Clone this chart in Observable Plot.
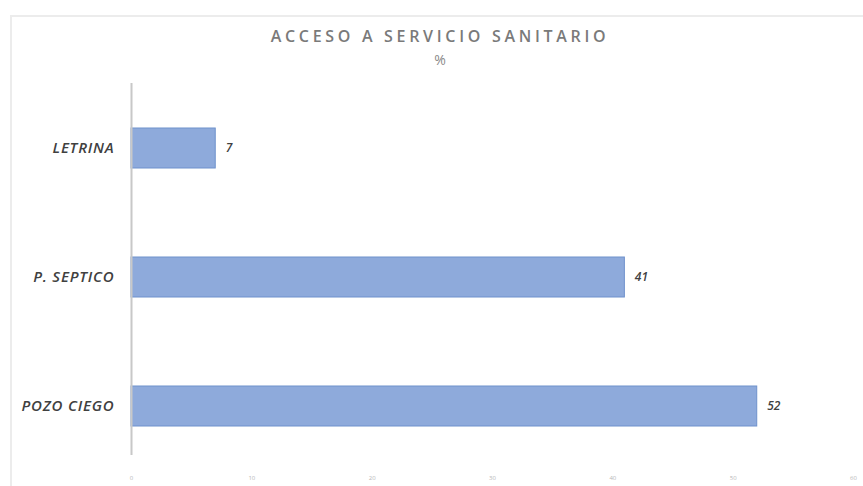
<!DOCTYPE html>
<html>
<head>
<meta charset="utf-8">
<script src="https://cdn.jsdelivr.net/npm/d3@7"></script>
<script src="https://cdn.jsdelivr.net/npm/@observablehq/plot@0.6"></script>
<style>
  html, body { margin: 0; padding: 0; background: #fff; }
  #wrap { position: relative; width: 863px; height: 486px; overflow: hidden; font-family: "Open Sans", "DejaVu Sans", sans-serif; }
  #border { position: absolute; left: 10px; top: 15px; width: 870px; height: 500px; border-left: 2px solid #ececec; border-top: 2px solid #ececec; }
  #title { position: absolute; left: 0; width: 880px; top: 25px; text-align: center; font-size: 16px; font-weight: 600; letter-spacing: 3.7px; color: #7a7a7a; }
  #sub { position: absolute; left: 0; width: 880px; top: 50px; text-align: center; font-size: 14px; color: #8a8a8a; }
  #chart { position: absolute; left: 0; top: 0; }
  #chart svg g[aria-label="y-axis tick label"] text { letter-spacing: 0.8px; }
</style>
</head>
<body>
<div id="wrap">
  <div id="border"></div>
  <div id="chart"></div>
  <div id="title">ACCESO A SERVICIO SANITARIO</div>
  <div id="sub">%</div>
</div>
<script>
const categories = ["LETRINA", "P. SEPTICO", "POZO CIEGO"];
const values = [7, 41, 52];
const xTicks = [0, 10, 20, 30, 40, 50, 60];

const data = categories.map((c, i) => ({category: c, value: values[i]}));

const chart = Plot.plot({
  width: 863,
  height: 486,
  marginLeft: 131,
  marginRight: 10,
  marginTop: 83,
  marginBottom: 31,
  style: {background: "transparent", overflow: "visible", fontFamily: "'Open Sans', sans-serif"},
  x: {domain: [0, 60]},
  y: {domain: categories, range: [127, 427], paddingInner: 0.692, paddingOuter: 0},
  marks: [
    Plot.barX(data, {x: "value", y: "category", fill: "#8eaadb", stroke: "#6e91cc", strokeWidth: 1}),
    Plot.text(data, {x: "value", y: "category", text: d => String(d.value), textAnchor: "start", dx: 10,
      fill: "#404040", fontSize: 12, fontWeight: 600, fontStyle: "italic"}),
    Plot.ruleX([0], {stroke: "#c8c8c8", strokeWidth: 2}),
    Plot.axisY({tickSize: 0, tickPadding: 17, fontSize: 15, fontWeight: 600, fontStyle: "italic",
      fill: "#404040", label: null}),
    Plot.axisX({ticks: xTicks, tickSize: 0, tickPadding: 20, fontSize: 6, fill: "#b8b8b8", label: null})
  ]
});
document.getElementById("chart").appendChild(chart);
</script>
</body>
</html>
